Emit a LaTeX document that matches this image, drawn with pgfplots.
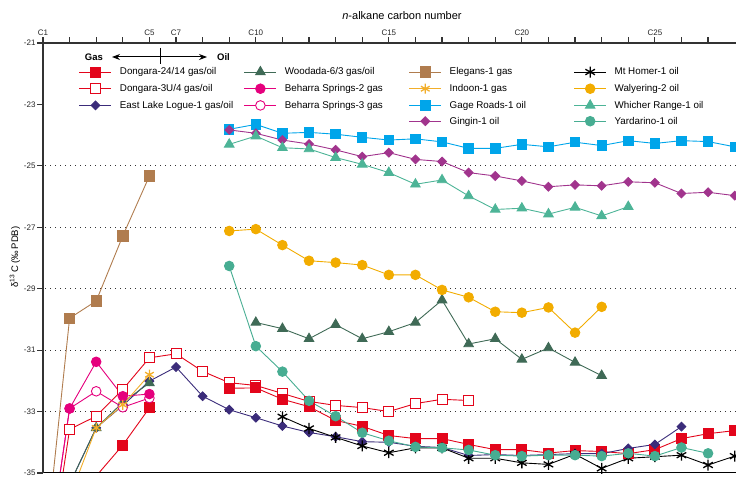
\documentclass[border=0pt]{standalone}
\usepackage{fontspec}
\setmainfont{Liberation Sans}
\usepackage{pgfplots}
\pgfplotsset{compat=1.18}
\usetikzlibrary{arrows.meta}
\definecolor{dred}{HTML}{E3051B}
\definecolor{dmag}{HTML}{E5007D}
\definecolor{dnavy}{HTML}{3B2C7A}
\definecolor{dgreen}{HTML}{3F6A56}
\definecolor{dbrown}{HTML}{B07C4E}
\definecolor{dorange}{HTML}{F2AE2A}
\definecolor{dblue}{HTML}{00A5EA}
\definecolor{dyellow}{HTML}{F2AC00}
\definecolor{dteal}{HTML}{4DB497}
\definecolor{dteal2}{HTML}{47AD92}
\definecolor{dpurple}{HTML}{A1348D}
\definecolor{tickc}{HTML}{333333}
\tikzset{gridl/.style={black!80, line width=1.1pt, dash pattern=on 1.1pt off 3.9pt}}
\pgfplotsset{
 sD24/.style={color=dred, mark=square*, mark size=5pt, line width=0.9pt},
 sD3U/.style={color=dred, mark=square*, mark size=5pt, mark options={fill=white}, line width=0.9pt},
 sELL/.style={color=dnavy, mark=square*, mark size=3.1pt, mark options={rotate=45}, line width=0.9pt},
 sWoo/.style={color=dgreen, mark=triangle*, mark size=5.5pt, line width=0.9pt},
 sB2/.style={color=dmag, mark=*, mark size=4.8pt, line width=0.9pt},
 sB3/.style={color=dmag, mark=*, mark size=4.8pt, mark options={fill=white}, line width=0.9pt},
 sEle/.style={color=dbrown, mark=square*, mark size=5.2pt, line width=0.9pt},
 sInd/.style={color=dorange, mark=asterisk, mark size=5pt, mark options={line width=1.3pt}, line width=0.9pt},
 sGag/.style={color=dblue, mark=square*, mark size=4.7pt, line width=0.9pt},
 sGin/.style={color=dpurple, mark=square*, mark size=3.1pt, mark options={rotate=45}, line width=0.9pt},
 sMtH/.style={color=black, mark=asterisk, mark size=5.5pt, mark options={line width=1.3pt}, line width=0.9pt},
 sWal/.style={color=dyellow, mark=*, mark size=4.8pt, line width=0.9pt},
 sWhi/.style={color=dteal, mark=triangle*, mark size=5.5pt, line width=0.9pt},
 sYar/.style={color=dteal2, mark=*, mark size=4.8pt, line width=0.9pt},
}
\begin{document}
\begin{tikzpicture}
\useasboundingbox (0,0) rectangle (736pt,479pt);
\begin{axis}[
  at={(43pt,6pt)}, anchor=south west,
  scale only axis, width=693pt, height=430pt,
  xmin=0, xmax=26.05, ymin=-35, ymax=-21,
  axis line style={draw=none},
  xtick pos=right, xticklabel pos=right,
  ytick pos=left, yticklabel pos=left,
  tick align=outside,
  major tick length=5.5pt,
  xtick style={draw=tickc, line width=1.1pt},
  ytick style={draw=tickc, line width=1.1pt},
  xtick={0,...,25},
  xticklabels={C1,{},{},{},C5,C7,{},{},C10,{},{},{},{},C15,{},{},{},{},C20,{},{},{},{},C25,{},{}},
  ytick={-35,-33,-31,-29,-27,-25,-23,-21},
  yticklabels={-35,-33,-31,-29,-27,-25,-23,-21},
  ticklabel style={font=\fontsize{8}{9}\selectfont, black!85},
  xticklabel style={yshift=-1.5pt},
  yticklabel style={xshift=1.5pt},
  xlabel={\textit{n}-alkane carbon number},
  every axis x label/.style={at={(axis description cs:0.518,1.063)}, anchor=center, font=\fontsize{11}{13}\selectfont},
  ylabel={δ\textsuperscript{13}\,C (‰\,PDB)},
  every axis y label/.style={at={(axis description cs:-0.0404,0.502)}, rotate=90, anchor=center, font=\fontsize{9.5}{11}\selectfont},
  unbounded coords=jump,
  legend columns=4,
  legend cell align=left,
  legend image code/.code={\draw[mark repeat=2,mark phase=2,#1] plot coordinates {(0pt,0pt) (16pt,0pt) (32pt,0pt)};},
  legend style={at={(0.052,0.9453)}, anchor=north west, draw=none, fill=none, inner sep=0pt, outer sep=0pt,
     font=\fontsize{9.8}{11}\selectfont, nodes={inner sep=0pt}, row sep=6.2pt, column sep=0pt,
     /tikz/every odd column/.append style={column sep=8pt}},
]
% legend
\addlegendimage{sD24}\addlegendentry{\makebox[124pt][l]{Dongara-24/14 gas/oil}}
\addlegendimage{sWoo}\addlegendentry{\makebox[124pt][l]{Woodada-6/3 gas/oil}}
\addlegendimage{sEle}\addlegendentry{\makebox[124pt][l]{Elegans-1 gas}}
\addlegendimage{sMtH}\addlegendentry{\makebox[124pt][l]{Mt Homer-1 oil}}
\addlegendimage{sD3U}\addlegendentry{Dongara-3U/4 gas/oil}
\addlegendimage{sB2}\addlegendentry{Beharra Springs-2 gas}
\addlegendimage{sInd}\addlegendentry{Indoon-1 gas}
\addlegendimage{sWal}\addlegendentry{Walyering-2 oil}
\addlegendimage{sELL}\addlegendentry{East Lake Logue-1 gas/oil}
\addlegendimage{sB3}\addlegendentry{Beharra Springs-3 gas}
\addlegendimage{sGag}\addlegendentry{Gage Roads-1 oil}
\addlegendimage{sWhi}\addlegendentry{Whicher Range-1 oil}
\addlegendimage{empty legend}\addlegendentry{}
\addlegendimage{empty legend}\addlegendentry{}
\addlegendimage{sGin}\addlegendentry{Gingin-1 oil}
\addlegendimage{sYar}\addlegendentry{Yardarino-1 oil}

% dotted grid lines
\draw[gridl] (axis cs:0.08,-25) -- (axis cs:26.05,-25);
\draw[gridl] (axis cs:0.08,-27) -- (axis cs:26.05,-27);
\draw[gridl] (axis cs:0.08,-29) -- (axis cs:26.05,-29);
\draw[gridl] (axis cs:0.08,-31) -- (axis cs:26.05,-31);
\draw[gridl] (axis cs:0.08,-33) -- (axis cs:26.05,-33);

% Dongara-3U/4
\addplot[sD3U, forget plot] coordinates {(0,-39.3) (1,-33.58) (2,-33.15) (3,-32.28) (4,-31.25) (5,-31.12) (6,-31.69) (7,-32.06) (8,-32.15) (9,-32.41) (10,-32.67) (11,-32.8) (12,-32.87) (13,-33.0) (14,-32.74) (15,-32.6) (16,-32.64)};
% Dongara-24/14
\addplot[sD24, forget plot] coordinates {(2,-35.1) (3,-34.09) (4,-32.88) (5,nan) (7,-32.24) (8,-32.23) (9,-32.6) (10,-32.84) (11,-33.29) (12,-33.48) (13,-33.78) (14,-33.88) (15,-33.88) (16,-34.07) (17,-34.24) (18,-34.24) (19,-34.35) (20,-34.27) (21,-34.3) (22,-34.37) (23,-34.24) (24,-33.88) (25,-33.72) (26,-33.62)};
% East Lake Logue-1
\addplot[sELL, forget plot] coordinates {(1,-35.36) (2,-33.53) (3,-32.8) (4,-32.01) (5,-31.55) (6,-32.5) (7,-32.94) (8,-33.2) (9,-33.47) (10,-33.68) (11,-33.82) (12,-33.98) (13,-34.0) (14,-34.13) (15,-34.17) (16,-34.43) (17,-34.4) (18,-34.43) (19,-34.4) (20,-34.37) (21,-34.37) (22,-34.2) (23,-34.07) (24,-33.49)};
% Woodada-6/3
\addplot[sWoo, forget plot] coordinates {(1,-35.36) (2,-33.53) (3,-32.7) (4,-32.07) (5,nan) (8,-30.1) (9,-30.3) (10,-30.63) (11,-30.17) (12,-30.63) (13,-30.4) (14,-30.1) (15,-29.37) (16,-30.8) (17,-30.63) (18,-31.3) (19,-30.93) (20,-31.4) (21,-31.83)};
% Beharra Springs-3
\addplot[sB3, forget plot] coordinates {(0,-38.8) (1,-32.9) (2,-32.34) (3,-32.86) (4,-32.56)};
% Beharra Springs-2
\addplot[sB2, forget plot] coordinates {(0,-38.8) (1,-32.9) (2,-31.38) (3,-32.5) (4,-32.43)};
% Elegans-1
\addplot[sEle, forget plot] coordinates {(0,-38.2) (1,-29.96) (2,-29.4) (3,-27.28) (4,-25.33)};
% Indoon-1
\addplot[sInd, forget plot] coordinates {(1,-35.8) (2,-33.53) (3,-32.78) (4,-31.8)};
% Gage Roads-1
\addplot[sGag, forget plot] coordinates {(7,-23.81) (8,-23.65) (9,-23.94) (10,-23.91) (11,-23.97) (12,-24.07) (13,-24.16) (14,-24.12) (15,-24.22) (16,-24.43) (17,-24.43) (18,-24.3) (19,-24.38) (20,-24.23) (21,-24.34) (22,-24.18) (23,-24.27) (24,-24.18) (25,-24.21) (26,-24.38)};
% Gingin-1
\addplot[sGin, forget plot] coordinates {(7,-23.83) (8,-23.94) (9,-24.16) (10,-24.29) (11,-24.48) (12,-24.7) (13,-24.57) (14,-24.79) (15,-24.86) (16,-25.22) (17,-25.33) (18,-25.49) (19,-25.68) (20,-25.62) (21,-25.65) (22,-25.52) (23,-25.55) (24,-25.9) (25,-25.86) (26,-25.97)};
% Whicher Range-1
\addplot[sWhi, forget plot] coordinates {(7,-24.3) (8,-24.03) (9,-24.41) (10,-24.45) (11,-24.73) (12,-24.95) (13,-25.22) (14,-25.6) (15,-25.46) (16,-25.98) (17,-26.42) (18,-26.38) (19,-26.57) (20,-26.35) (21,-26.63) (22,-26.33)};
% Walyering-2
\addplot[sWal, forget plot] coordinates {(7,-27.12) (8,-27.06) (9,-27.58) (10,-28.09) (11,-28.15) (12,-28.23) (13,-28.55) (14,-28.55) (15,-29.04) (16,-29.28) (17,-29.75) (18,-29.78) (19,-29.61) (20,-30.43) (21,-29.59)};
% Mt Homer-1
\addplot[sMtH, forget plot] coordinates {(9,-33.17) (10,-33.55) (11,-33.84) (12,-34.12) (13,-34.34) (14,-34.18) (15,-34.18) (16,-34.52) (17,-34.52) (18,-34.67) (19,-34.72) (20,-34.39) (21,-34.85) (22,-34.52) (23,-34.47) (24,-34.42) (25,-34.74) (26,-34.45)};
% Yardarino-1
\addplot[sYar, forget plot] coordinates {(7,-28.26) (8,-30.87) (9,-31.7) (10,-32.65) (11,-33.15) (12,-33.69) (13,-33.95) (14,-34.15) (15,-34.18) (16,-34.25) (17,-34.42) (18,-34.45) (19,-34.42) (20,-34.42) (21,-34.45) (22,-34.36) (23,-34.45) (24,-34.17) (25,-34.36)};

% Gas / Oil annotation
\draw[line width=1pt, -{Stealth[length=8pt,width=6pt]}] (axis cs:4.4,-21.456) -- (axis cs:2.594,-21.456);
\draw[line width=1pt, -{Stealth[length=8pt,width=6pt]}] (axis cs:4.4,-21.456) -- (axis cs:6.165,-21.456);
\draw[line width=1pt] (axis cs:4.4,-21.163) -- (axis cs:4.4,-21.684);
\node[anchor=east, inner sep=0pt, font=\bfseries\fontsize{9.5}{11}\selectfont] at (axis cs:2.256,-21.456) {Gas};
\node[anchor=west, inner sep=0pt, font=\bfseries\fontsize{9.5}{11}\selectfont] at (axis cs:6.54,-21.456) {Oil};
\end{axis}
% axis lines and ticks (frame of the plot area: x 43..736pt, y 6..436pt)
\draw[line width=1pt, black] (43pt,6pt) -- (736pt,6pt);
\draw[line width=1.4pt, tickc] (43pt,6pt) -- (43pt,436pt) -- (736pt,436pt);
\foreach \i in {0,...,25} {\fill[tickc] ({42.4pt+26.603pt*\i},436pt) rectangle ++(1.2pt,5.5pt);}
\foreach \j in {0,...,7} {\fill[tickc] (43pt,{5.4pt+61.4286pt*\j}) rectangle ++(-6pt,1.2pt);}
\end{tikzpicture}
\end{document}
